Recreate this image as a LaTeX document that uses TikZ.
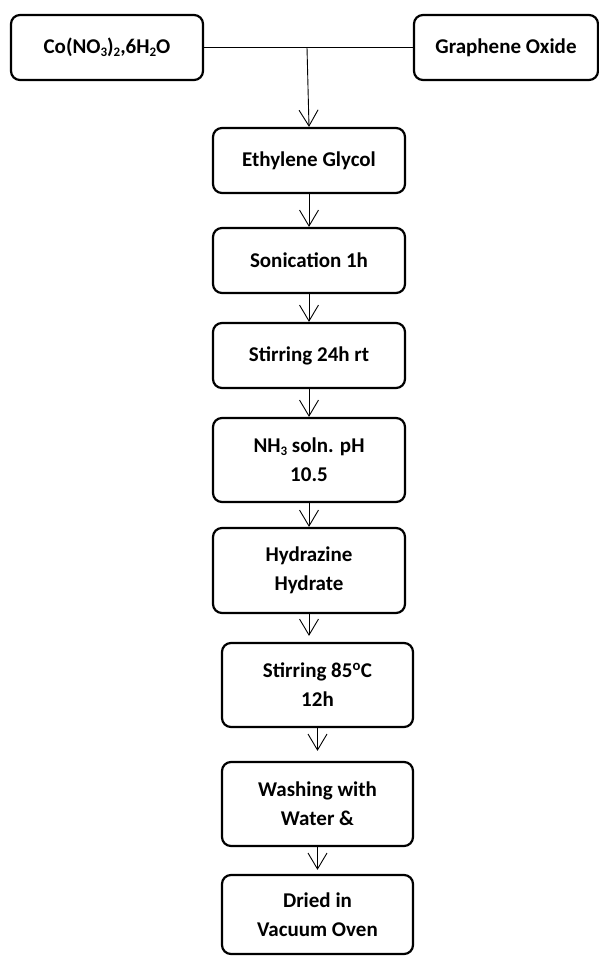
\documentclass[tikz,border=0pt]{standalone}
\usepackage{fontspec}
\setmainfont{Carlito}
\usetikzlibrary{arrows.meta, positioning}
\newcommand{\chemsub}[1]{\raisebox{-0.25ex}{\fontsize{13}{13}\selectfont #1}}

\begin{document}
\begin{tikzpicture}[x=1pt, y=-1pt,
  stepbox/.style={draw, line width=2.2pt, rounded corners=9pt,
    minimum width=192pt, minimum height=65pt, inner sep=2pt,
    align=center, font=\fontsize{21}{29}\selectfont\bfseries},
  flow/.style={-{Straight Barb[length=16pt, width=19pt]}, line width=0.9pt}]
  \useasboundingbox (0,0) rectangle (599,956);
  % Starting materials
  \node[stepbox] (cobalt) at (107,47.5) {Co(NO\chemsub{3})\chemsub{2},6H\chemsub{2}O};
  \node[stepbox, minimum width=184pt] (oxide) at (506,47.5) {Graphene Oxide};
  \coordinate (join) at (307,47.5);
  % Process steps
  \node[stepbox] (glycol) at (309,160.5) {Ethylene Glycol};
  \node[stepbox] (sonic) at (309,260.5) {Sonication 1h};
  \node[stepbox] (stir) at (309,355.5) {Stirring 24h rt};
  \node[stepbox, minimum height=84pt] (ammonia) at (309,460) {NH\chemsub{3} soln. pH\\10.5};
  \node[stepbox, minimum height=85pt] (hydra) at (309,570.5) {Hydrazine\\Hydrate};
  \node[stepbox, minimum width=191pt, minimum height=84pt] (heat) at (317.5,685) {Stirring 85\textsuperscript{o}C\\12h};
  \node[stepbox, minimum width=191pt, minimum height=84pt] (wash) at (317.5,804) {Washing with\\Water \&};
  \node[stepbox, minimum width=191pt, minimum height=79pt] (dry) at (317.5,914.5) {Dried in\\Vacuum Oven};
  % Connectors
  \draw[line width=0.9pt] (cobalt) -- (oxide);
  \draw[flow] (join) -- (glycol.north);
  \foreach \a/\b/\gap in {glycol/sonic/0, sonic/stir/0, stir/ammonia/0,
      ammonia/hydra/0, hydra/heat/6, heat/wash/10, wash/dry/4}{
    \draw[flow, shorten >=\gap pt] (\a.south) -- (\a.south |- \b.north);
  }
\end{tikzpicture}
\end{document}
